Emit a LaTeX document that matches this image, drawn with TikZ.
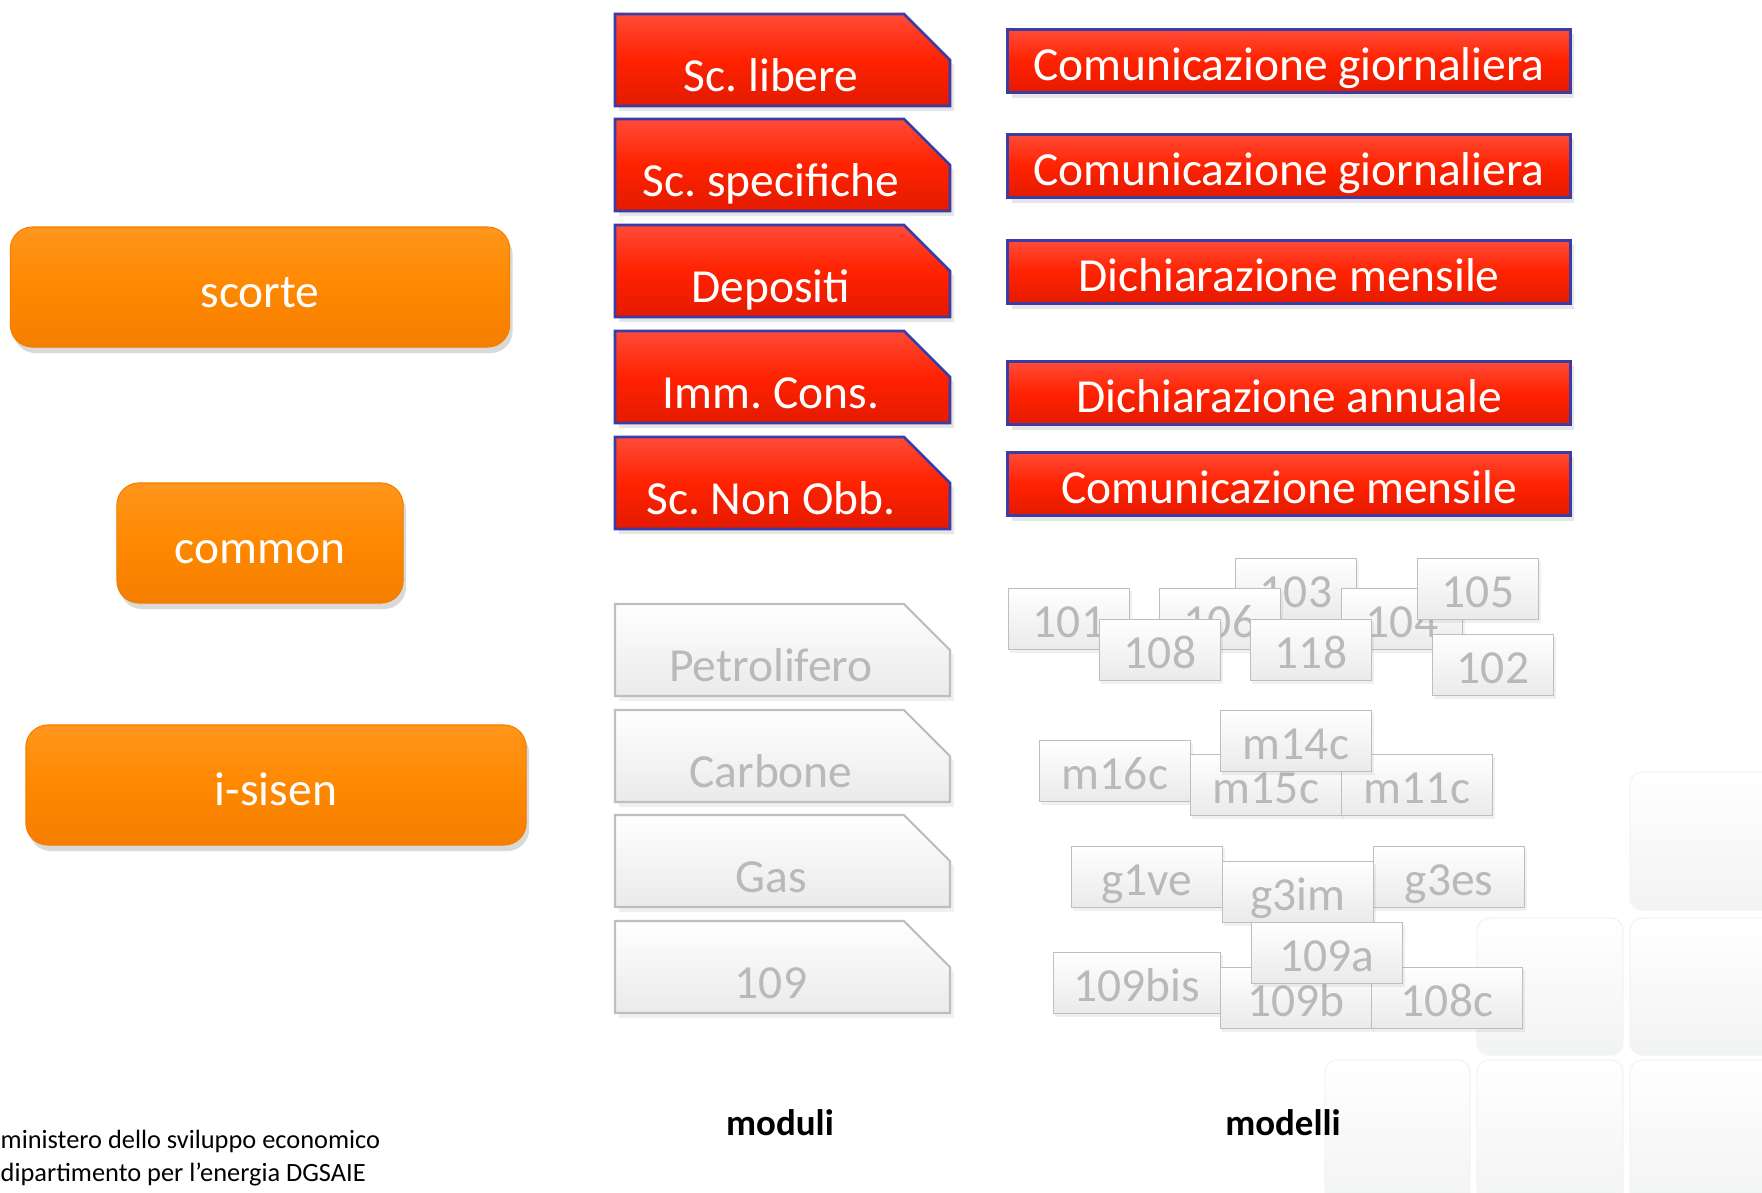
\documentclass[tikz,border=0pt]{standalone}
\usepackage{fontspec}
\setmainfont{Carlito}
\usepackage{tikz}
\usetikzlibrary{shadows}
\frenchspacing

\definecolor{arancio}{RGB}{255,136,0}
\definecolor{arancioChiaro}{RGB}{255,150,28}
\definecolor{arancioScuro}{RGB}{244,126,0}
\definecolor{rosso}{RGB}{255,34,0}
\definecolor{rossoChiaro}{RGB}{255,75,55}
\definecolor{rossoScuro}{RGB}{228,26,0}
\definecolor{bluBordo}{RGB}{60,60,165}
\definecolor{grigioBordo}{RGB}{190,190,190}
\definecolor{grigioTesto}{RGB}{185,185,185}
\definecolor{grigioFondo}{RGB}{234,234,234}
\definecolor{tesseraFondo}{RGB}{242,243,244}
\definecolor{tesseraBordo}{RGB}{244,244,244}

% module box: style, text colour, name, centre y, label
\newcommand{\modulo}[5]{%
	\draw[#1] (615,#4-46) -- (904,#4-46) -- (950,#4) -- (950,#4+46) 
		-- (615,#4+46) -- cycle;
	\node[testoModulo, text=#2] (#3) at (771,#4) {#5};}

\begin{document}
\begin{tikzpicture}[x=0.01cm,y=-0.01cm]
			\tikzset{pill/.style = {rectangle, rounded corners=0.22cm, 
					draw=arancioScuro, line width=0.3pt, top color=arancioChiaro, 
					bottom color=arancioScuro, middle color=arancio, text=white, 
					minimum height=1.2cm, inner sep=0pt, text height=0.40cm, 
					text depth=0cm, font=\fontsize{13.5}{16}\selectfont,
					drop shadow={opacity=0.3, shadow xshift=0.03cm, shadow yshift=-0.06cm}}}
			\tikzset{testoModulo/.style = {rectangle, minimum width=3.0cm, 
					minimum height=0.92cm, inner sep=0pt, text height=0.62cm, 
					text depth=0cm, font=\fontsize{13.5}{16}\selectfont}}
			\tikzset{moduloRosso/.style = {draw=bluBordo, line width=0.8pt,
					top color=rossoChiaro, bottom color=rossoScuro, middle color=rosso,
					drop shadow={opacity=0.2, shadow xshift=0.04cm, 
					shadow yshift=-0.05cm}}}
			\tikzset{moduloGrigio/.style = {draw=grigioBordo, line width=0.6pt,
					top color=white, bottom color=grigioFondo,
					drop shadow={opacity=0.12, shadow xshift=0.04cm, 
					shadow yshift=-0.05cm}}}
			\tikzset{modello/.style = {rectangle, draw=bluBordo, line width=0.8pt,
					top color=rossoChiaro, bottom color=rossoScuro, middle color=rosso,
					text=white, minimum width=5.62cm, minimum height=0.63cm, 
					inner sep=0pt, text height=0.38cm, text depth=0cm,
					font=\fontsize{13.5}{16}\selectfont,
					drop shadow={opacity=0.2, shadow xshift=0.04cm, shadow yshift=-0.05cm}}}
			\tikzset{codice/.style = {rectangle, draw=grigioBordo, line width=0.5pt,
					top color=white, bottom color=grigioFondo, text=grigioTesto,
					minimum height=0.61cm, inner sep=0pt, text height=0.36cm, 
					text depth=0cm, font=\fontsize{13.5}{16}\selectfont,
					drop shadow={opacity=0.12, shadow xshift=0.02cm, shadow yshift=-0.03cm}}}
			\tikzset{codiceTre/.style = {codice, minimum width=1.21cm}}
			\tikzset{codiceQuattro/.style = {codice, minimum width=1.51cm}}
			\tikzset{tessera/.style = {rounded corners=0.12cm, draw=tesseraBordo,
					top color=white, bottom color=tesseraFondo}}
			
			\useasboundingbox (0,0) rectangle (1762,1193);
			
			% background tiles
			\draw[tessera] (1630,772) rectangle (1775,910);
			\draw[tessera] (1477,918) rectangle (1623,1055);
			\draw[tessera] (1630,918) rectangle (1775,1055);
			\draw[tessera] (1325,1060) rectangle (1470,1205);
			\draw[tessera] (1477,1060) rectangle (1623,1205);
			\draw[tessera] (1630,1060) rectangle (1775,1205);
			
			% applications
			\node[pill, minimum width=4.99cm] (scorte) at (260,287) {scorte};
			\node[pill, minimum width=2.86cm] (common) at (260,543) {common};
			\node[pill, minimum width=5.0cm] (isisen) at (276,785) {i-sisen};
			
			% moduli
			\modulo{moduloRosso}{white}{libere}{60}{Sc. libere}
			\modulo{moduloRosso}{white}{specifiche}{165}{Sc. specifiche}
			\modulo{moduloRosso}{white}{depositi}{271}{Depositi}
			\modulo{moduloRosso}{white}{immcons}{377}{Imm. Cons.}
			\modulo{moduloRosso}{white}{nonobb}{483}{Sc. Non Obb.}
			
			\modulo{moduloGrigio}{grigioTesto}{petrolifero}{650}{Petrolifero}
			\modulo{moduloGrigio}{grigioTesto}{carbone}{756}{Carbone}
			\modulo{moduloGrigio}{grigioTesto}{gas}{861}{Gas}
			\modulo{moduloGrigio}{grigioTesto}{mod109}{967}{109}
			
			% modelli
			\node[modello] (comgiorn1) at (1289,61) {Comunicazione giornaliera};
			\node[modello] (comgiorn2) at (1289,166) {Comunicazione giornaliera};
			\node[modello] (dichmens) at (1289,272) {Dichiarazione mensile};
			\node[modello] (dichann) at (1289,393) {Dichiarazione annuale};
			\node[modello] (commens) at (1289,484) {Comunicazione mensile};
			
			% codici petrolifero
			\node[codiceTre] (c103) at (1296,589) {103};
			\node[codiceTre] (c101) at (1069,619) {101};
			\node[codiceTre] (c106) at (1220,619) {106};
			\node[codiceTre] (c104) at (1402,619) {104};
			\node[codiceTre] (c105) at (1478,589) {105};
			\node[codiceTre] (c102) at (1493,665) {102};
			\node[codiceTre] (c108) at (1160,650) {108};
			\node[codiceTre] (c118) at (1311,650) {118};
			
			% codici carbone
			\node[codiceQuattro] (m16c) at (1115,771) {m16c};
			\node[codiceQuattro] (m15c) at (1266,785) {m15c};
			\node[codiceQuattro] (m11c) at (1417,785) {m11c};
			\node[codiceQuattro] (m14c) at (1296,741) {m14c};
			
			% codici gas e 109
			\node[codiceQuattro] (g1ve) at (1147,877) {g1ve};
			\node[codiceQuattro] (g3es) at (1449,877) {g3es};
			\node[codiceQuattro] (g3im) at (1298,892) {g3im};
			\node[codice, minimum width=1.67cm] (c109bis) at (1137,983) {109bis};
			\node[codiceQuattro] (c109b) at (1296,998) {109b};
			\node[codiceQuattro] (c108c) at (1447,998) {108c};
			\node[codiceQuattro] (c109a) at (1327,953) {109a};
			
			% titles
			\node[anchor=base, font=\fontsize{10.5}{12}\selectfont\bfseries] 
				(moduli) at (780,1135) {moduli};
			\node[anchor=base, font=\fontsize{10.5}{12}\selectfont\bfseries] 
				(modelli) at (1283,1135) {modelli};
			
			% footer
			\node[anchor=base west, inner sep=0pt, font=\fontsize{7.5}{9}\selectfont] 
				(ministero) at (0,1148) {ministero dello sviluppo economico};
			\node[anchor=base west, inner sep=0pt, font=\fontsize{7.5}{9}\selectfont] 
				(dipartimento) at (0,1181) {dipartimento per l’energia DGSAIE};
			
\end{tikzpicture}
\end{document}
